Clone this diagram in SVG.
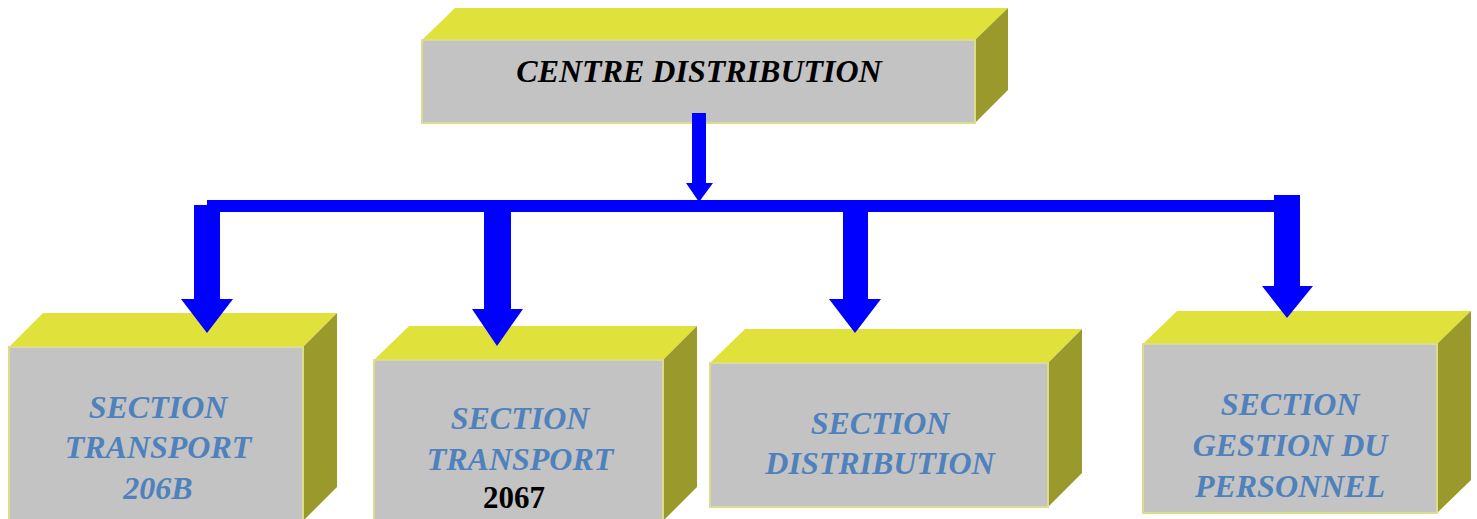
<svg xmlns="http://www.w3.org/2000/svg" width="1477" height="519" viewBox="0 0 1477 519">
<style>
.top{fill:#E1E13B}
.front{fill:#C3C3C3;stroke:#DCDC8E;stroke-width:2}
.side{fill:#999A2B}
.lbl{font-family:"Liberation Serif",serif;font-weight:bold;font-style:italic;font-size:32px;fill:#4F81BD;text-anchor:middle}
.main{font-family:"Liberation Serif",serif;font-weight:bold;font-style:italic;font-size:32px;fill:#000;text-anchor:middle}
.num{font-family:"Liberation Serif",serif;font-weight:bold;font-size:31px;fill:#000;text-anchor:middle}
.conn{fill:#0000FF}
</style>
<rect width="1477" height="519" fill="#FFFFFF"/>
<g id="centre">
<polygon class="top" points="422,40 455,8 1008,8 975,40"/>
<polygon class="side" points="975,40 1008,8 1008,90 975,123"/>
<rect class="front" x="422" y="40" width="553" height="83"/>
<text class="main" x="699" y="82">CENTRE DISTRIBUTION</text>
</g>
<g id="transport206b">
<polygon class="top" points="9,347 43,313 337,313 303,347"/>
<polygon class="side" points="303,347 337,313 337,487 303,521"/>
<rect class="front" x="9" y="347" width="294" height="176"/>
<text class="lbl" x="158" y="418">SECTION</text>
<text class="lbl" x="158" y="458">TRANSPORT</text>
<text class="lbl" x="158" y="499">206B</text>
</g>
<g id="transport2067">
<polygon class="top" points="374,360 409,326 697,326 663,360"/>
<polygon class="side" points="663,360 697,326 697,487 663,521"/>
<rect class="front" x="374" y="360" width="289" height="163"/>
<text class="lbl" x="520" y="429">SECTION</text>
<text class="lbl" x="520" y="470">TRANSPORT</text>
<text class="num" x="514" y="508">2067</text>
</g>
<g id="distribution">
<polygon class="top" points="710,363 745,329 1082,329 1048,363"/>
<polygon class="side" points="1048,363 1082,329 1082,473 1048,507"/>
<rect class="front" x="710" y="363" width="338" height="144"/>
<text class="lbl" x="880" y="434">SECTION</text>
<text class="lbl" x="880" y="474">DISTRIBUTION</text>
</g>
<g id="personnel">
<polygon class="top" points="1143,344 1177,311 1471,311 1437,344"/>
<polygon class="side" points="1437,344 1471,311 1471,480 1437,513"/>
<rect class="front" x="1143" y="344" width="294" height="169"/>
<text class="lbl" x="1290" y="415">SECTION</text>
<text class="lbl" x="1290" y="456">GESTION DU</text>
<text class="lbl" x="1290" y="497">PERSONNEL</text>
</g>
<g id="connectors" class="conn">
<polygon points="692,113 706,113 706,183 713,183 699,202 686,183 692,183"/>
<rect x="207" y="200" width="1080" height="12"/>
<polygon points="194,205 220,205 220,299 233,299 207,333 181,299 194,299"/>
<polygon points="484,210 511,210 511,309 523,309 497,346 472,309 484,309"/>
<polygon points="843,210 868,210 868,299 881,299 855,333 829,299 843,299"/>
<polygon points="1274,195 1300,195 1300,286 1313,286 1287,318 1262,286 1274,286"/>
</g>
</svg>
